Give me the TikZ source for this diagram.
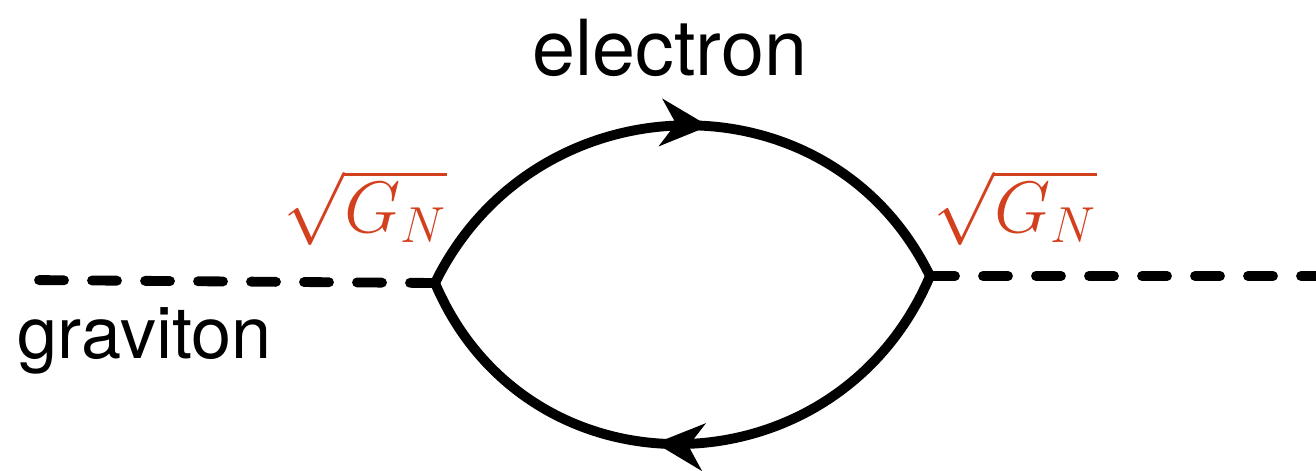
\documentclass[tikz,border=0pt]{standalone}
\usepackage{fontspec}
\usepackage{amsmath}
\usetikzlibrary{arrows.meta, decorations.markings, positioning}
\newfontfamily\helvfont{TeX Gyre Heros}
\definecolor{couplingred}{HTML}{D2401E}
\tikzset{
  gravline/.style={line width=2.8pt, dash pattern=on 0.25cm off 0.28cm, line cap=round},
  fermline/.style={line width=2.8pt, postaction={decorate}, decoration={markings, mark=at position 0.545 with {\arrow{Stealth[length=0.48cm, width=0.47cm, inset=0.15cm]}}}},
  lbl/.style={inner sep=0pt, font=\helvfont\fontsize{22}{26}\selectfont},
  coupling/.style={inner sep=0pt, text=couplingred, font=\fontsize{20.5}{24}\selectfont},
}

\begin{document}
\begin{tikzpicture}
    \useasboundingbox (0,0) rectangle (13.16,4.70);

    % Vertices and free ends
    \coordinate (vL) at (4.35,1.87);
    \coordinate (vR) at (9.30,1.94);
    \coordinate (gL) at (0.27,1.90);
    \coordinate (gR) at (13.40,1.94);

    % Graviton lines
    \draw[gravline] (vL) -- (gL);
    \draw[gravline] (vR) -- (gR);

    % Electron loop
    \draw[fermline] (vL) to[out=64, in=116, looseness=1.18] (vR);
    \draw[fermline] (vR) to[out=-113, in=-67, looseness=1.23] (vL);

    % Labels
    \node[lbl, anchor=base] (electron) at (6.70,3.95) {electron};
    \node[lbl, anchor=base west, font=\helvfont\fontsize{20.5}{24}\selectfont] (graviton) at (0.17,1.12) {graviton};
    \node[coupling, anchor=base west] (gnL) at (2.83,2.38) {$\sqrt{G_N}$};
    \node[coupling, anchor=base west] (gnR) at (9.33,2.38) {$\sqrt{G_N}$};
\end{tikzpicture}
\end{document}
